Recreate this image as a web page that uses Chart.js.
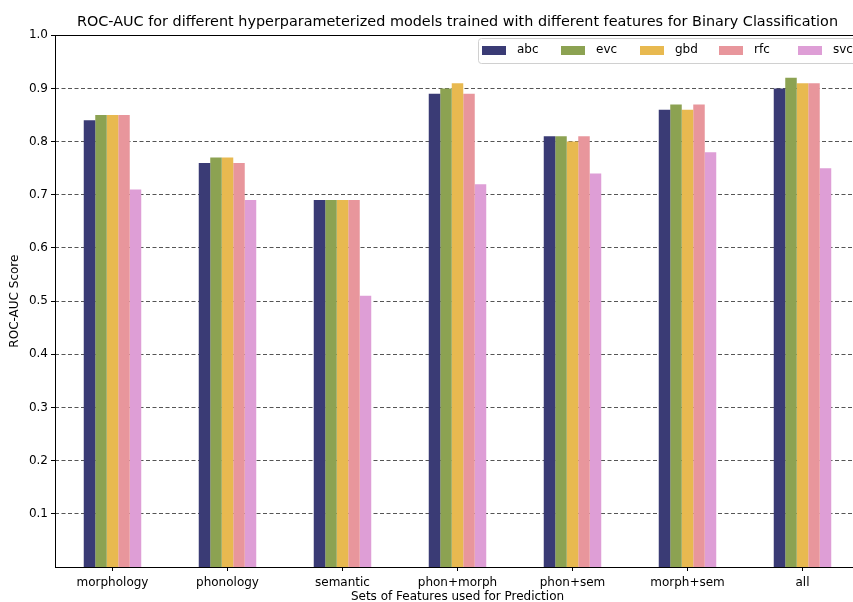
<!DOCTYPE html>
<html>
<head>
<meta charset="utf-8">
<script src="https://cdn.jsdelivr.net/npm/chart.js@4.4.1/dist/chart.umd.min.js"></script>
<style>
  html, body { margin: 0; padding: 0; background: #fff; overflow: hidden; }
  #wrap { width: 862px; height: 602px; }
</style>
</head>
<body>
<div id="wrap"><canvas id="rocChart"></canvas></div>
<script>
// categorias y puntuaciones
const categorias = ['morphology', 'phonology', 'semantic', 'phon+morph', 'phon+sem', 'morph+sem', 'all'];
const abc = [0.84, 0.76, 0.69, 0.89, 0.81, 0.86, 0.90];
const evc = [0.85, 0.77, 0.69, 0.90, 0.81, 0.87, 0.92];
const gbd = [0.85, 0.77, 0.69, 0.91, 0.80, 0.86, 0.91];
const rfc = [0.85, 0.76, 0.69, 0.89, 0.81, 0.87, 0.91];
const svc = [0.71, 0.69, 0.51, 0.72, 0.74, 0.78, 0.75];
const yTicks = [0.1, 0.2, 0.3, 0.4, 0.5, 0.6, 0.7, 0.8, 0.9, 1.0];

const FONT = 'DejaVu Sans';
const aColores = ['#3a3b75', '#8ca252', '#e8b950', '#e8969c', '#de9ed6'];
const series = [['abc', abc], ['evc', evc], ['gbd', gbd], ['rfc', rfc], ['svc', svc]];

const datasets = series.map(([nombre, valores], i) => ({
    label: nombre,
    data: valores,
    backgroundColor: aColores[i],
    borderWidth: 0,
    categoryPercentage: 0.5,
    barPercentage: 1.0
}));

// marco y leyenda dentro del area, estilo matplotlib
const marcoPlugin = {
    id: 'marco',
    afterDraw(chart) {
        const { ctx, chartArea: a } = chart;
        ctx.save();
        ctx.strokeStyle = '#000';
        ctx.lineWidth = 1;
        ctx.strokeRect(Math.round(a.left) + 0.5, Math.round(a.top) + 0.5,
            Math.round(a.right - a.left), Math.round(a.bottom - a.top));

        // leyenda
        const bx = 478, by = 38, bw = 390, bh = 25;
        ctx.fillStyle = 'rgba(255,255,255,0.85)';
        ctx.strokeStyle = '#d0d0d0';
        ctx.beginPath();
        ctx.roundRect(bx + 0.5, by + 0.5, bw, bh, 3);
        ctx.fill();
        ctx.stroke();
        ctx.font = '12px "' + FONT + '"';
        ctx.textBaseline = 'middle';
        chart.data.datasets.forEach((ds, i) => {
            const x = bx + 4 + i * 79;
            ctx.fillStyle = ds.backgroundColor;
            ctx.fillRect(x, by + 8, 24, 9);
            ctx.fillStyle = '#000';
            ctx.fillText(ds.label, x + 35, by + 12);
        });
        ctx.restore();
    }
};

const ctx = document.getElementById('rocChart').getContext('2d');
new Chart(ctx, {
    type: 'bar',
    data: { labels: categorias, datasets: datasets },
    plugins: [marcoPlugin],
    options: {
        responsive: true,
        maintainAspectRatio: false,
        animation: false,
        layout: { padding: { left: 0, right: 2, top: 0, bottom: 0 } },
        plugins: {
            legend: { display: false },
            tooltip: { enabled: false },
            title: {
                display: true,
                fullSize: false,
                text: 'ROC-AUC for different hyperparameterized models trained with different features for Binary Classification',
                color: '#000',
                font: { family: FONT, size: 14.4, weight: 'normal', lineHeight: 1.2 },
                padding: { top: 14, bottom: 4 }
            }
        },
        scales: {
            x: {
                offset: true,
                grid: { display: true, drawOnChartArea: false, drawTicks: true, tickLength: 4, tickColor: '#000', offset: false },
                border: { display: false },
                ticks: { color: '#000', font: { family: FONT, size: 12 }, padding: 5, maxRotation: 0 },
                title: { display: true, text: 'Sets of Features used for Prediction', color: '#000', font: { family: FONT, size: 12, lineHeight: 0.8 }, padding: { top: 0, bottom: 0 } },
                afterFit: s => { s.height = 35; }
            },
            y: {
                min: 0,
                max: 1.0,
                afterBuildTicks: s => { s.ticks = yTicks.map(v => ({ value: v })); },
                grid: {
                    color: c => (c.tick && c.tick.value < 0.95) ? '#555' : 'rgba(0,0,0,0)',
                    lineWidth: 1,
                    drawTicks: true,
                    tickLength: 4,
                    tickColor: '#000',
                    tickBorderDash: [],
                    tickWidth: 1
                },
                border: { display: false, dash: [4, 2.5] },
                ticks: { color: '#000', font: { family: FONT, size: 12 }, padding: 3, callback: v => v.toFixed(1) },
                title: { display: true, text: 'ROC-AUC Score', color: '#000', font: { family: FONT, size: 12 }, padding: { top: 8, bottom: 0 } },
                afterFit: s => { s.width = 55; }
            }
        }
    }
});
</script>
</body>
</html>
